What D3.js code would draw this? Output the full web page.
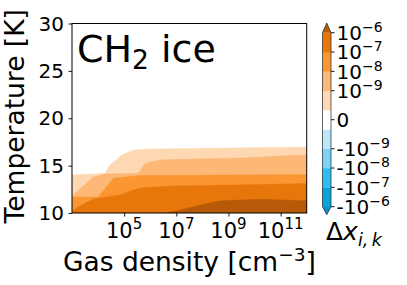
<!DOCTYPE html>
<html><head><meta charset="utf-8">
<script src="https://cdn.jsdelivr.net/npm/d3@7"></script>
<style>
html,body{margin:0;padding:0;background:#fff;}
svg text{font-family:"DejaVu Sans",sans-serif;fill:#000;}
</style></head>
<body><svg id="c" width="407" height="285"></svg>
<script>
// ---- data (log10 density, temperature K) of each filled-contour boundary ----
const xTickExps = [5, 7, 9, 11];
const yTicks = [10, 15, 20, 25, 30];
const levels = [1e-10, 1e-9, 1e-8, 1e-7, 1e-6];
const edge1e10 = [[3,14.0],[4.27,14.19],[4.46,15.07],[4.91,16.12],[5.35,16.65],[5.88,16.75],[12,16.97]];
const edge1e9  = [[3,11.8],[3.81,13.8],[4.27,14.12],[5.54,14.19],[5.81,15.25],[6.38,15.59],[7.15,15.67],[9.46,15.8],[10.88,16.02],[12,16.12]];
const edge1e8  = [[3,11.7],[4.0,11.7],[4.6,13.7],[5.62,13.96],[12,14.06]];
const edge1e7  = [[3,10.21],[3.31,10.74],[3.81,11.48],[4.85,11.9],[5.35,12.43],[5.62,12.64],[6.77,12.85],[9.08,12.96],[12,13.11]];
const edge1e6  = [[3,10],[6.58,10],[7.15,10.32],[7.92,10.84],[8.69,11.3],[10.23,11.45],[12,11.3]];
const edges = [edge1e10, edge1e9, edge1e8, edge1e7, edge1e6];
// colorbar boundaries (symmetric log levels) and tick labels
const cbarBounds = [-1e-6,-1e-7,-1e-8,-1e-9,-1e-10,1e-10,1e-9,1e-8,1e-7,1e-6];
const cbarTicks = [
  {v:-1e-6, s:"-", e:"−6"}, {v:-1e-7, s:"-", e:"−7"}, {v:-1e-8, s:"-", e:"−8"}, {v:-1e-9, s:"-", e:"−9"},
  {v:0, s:"", e:null},
  {v:1e-9, s:"", e:"−9"}, {v:1e-8, s:"", e:"−8"}, {v:1e-7, s:"", e:"−7"}, {v:1e-6, s:"", e:"−6"}
];
const bandColors = ["#0ba3dc","#2ebdef","#7dd3f3","#bde7f8","#ffffff","#fdd8b2","#fdb777","#fb9733","#e8770b"];
const overColor = "#b65a07", underColor = "#0a8fc6";
const fillColors = ["#fdd8b2","#fdb777","#fb9733","#e8770b","#b65a07"]; // region above each level

// ---- layout ----
const svg = d3.select("#c");
const L = 72, R = 306.7, T = 23.5, B = 213;
const x = d3.scaleLinear().domain([3, 12]).range([L, R]);
const xLog = d3.scaleLog().domain([1e3, 1e12]).range([L, R]);
const y = d3.scaleLinear().domain([10, 30]).range([B, T]);

svg.append("defs").append("clipPath").attr("id","pc")
  .append("rect").attr("x",L).attr("y",T).attr("width",R-L).attr("height",B-T);
const g = svg.append("g").attr("clip-path","url(#pc)");
const area = d3.area().x(d=>x(d[0])).y0(y(10)).y1(d=>y(d[1])).curve(d3.curveLinear);
edges.forEach((e,i)=>{
  g.append("path").datum(e).attr("d",area).attr("fill",fillColors[i])
   .attr("stroke",fillColors[i]).attr("stroke-width",0.4);
});

// frame
svg.append("rect").attr("x",L).attr("y",T).attr("width",R-L).attr("height",B-T)
  .attr("fill","none").attr("stroke","#000").attr("stroke-width",1);

// x axis
const xa = svg.append("g").attr("transform",`translate(0,${B})`)
  .call(d3.axisBottom(xLog).tickValues(xTickExps.map(e=>Math.pow(10,e))).tickSize(3.5).tickFormat(""));
xa.select(".domain").remove();
xa.selectAll(".tick line").attr("stroke","#000").attr("stroke-width",0.9);
xTickExps.forEach(e=>{
  const t = svg.append("text").attr("x",xLog(Math.pow(10,e))).attr("y",238)
    .attr("text-anchor","middle").attr("font-size",21);
  t.append("tspan").text("10");
  t.append("tspan").attr("dy",-9).attr("font-size",15).text(e);
});
const xl = svg.append("text").attr("x",(L+R)/2).attr("y",271).attr("text-anchor","middle").attr("font-size",26.5);
xl.append("tspan").text("Gas density [cm");
xl.append("tspan").attr("dy",-10).attr("font-size",18.5).text("−3");
xl.append("tspan").attr("dy",10).text("]");

// y axis
const ya = svg.append("g").attr("transform",`translate(${L},0)`)
  .call(d3.axisLeft(y).tickValues(yTicks).tickSize(3.5).tickFormat(""));
ya.select(".domain").remove();
ya.selectAll(".tick line").attr("stroke","#000").attr("stroke-width",0.9);
yTicks.forEach(v=>{
  svg.append("text").attr("x",64).attr("y",y(v)).attr("dy","0.36em")
    .attr("text-anchor","end").attr("font-size",20).text(v);
});
svg.append("text").attr("transform",`translate(24,${(T+B)/2-2}) rotate(-90)`)
  .attr("text-anchor","middle").attr("font-size",26.5).text("Temperature [K]");

// title
const tt = svg.append("text").attr("x",77).attr("y",62).attr("font-size",38);
tt.append("tspan").text("CH");
tt.append("tspan").attr("dy",7).attr("font-size",26.5).text("2");
tt.append("tspan").attr("dy",-7).text(" ice");

// colorbar
const cbL = 322.5, cbW = 8.5, cbTop = 32.7, cbBot = 206.7;
const cy = d3.scaleLinear().domain([0, cbarBounds.length-1]).range([cbBot, cbTop]);
const cb = svg.append("g");
bandColors.forEach((c,i)=>{
  cb.append("rect").attr("x",cbL).attr("y",cy(i+1)).attr("width",cbW)
    .attr("height",cy(i)-cy(i+1)+0.3).attr("fill",c);
});
cb.append("path").attr("d",`M${cbL},${cbTop}L${cbL+cbW/2},${cbTop-9.7}L${cbL+cbW},${cbTop}Z`).attr("fill",overColor);
cb.append("path").attr("d",`M${cbL},${cbBot}L${cbL+cbW/2},${cbBot+8}L${cbL+cbW},${cbBot}Z`).attr("fill",underColor);
cb.append("path").attr("d",`M${cbL},${cbTop}L${cbL+cbW/2},${cbTop-9.7}L${cbL+cbW},${cbTop}L${cbL+cbW},${cbBot}L${cbL+cbW/2},${cbBot+8}L${cbL},${cbBot}Z`)
  .attr("fill","none").attr("stroke","#222").attr("stroke-width",0.7);
function tickPos(v){
  if (v===0) return (cy(4)+cy(5))/2;
  return cy(cbarBounds.indexOf(v));
}
cbarTicks.forEach(t=>{
  const py = tickPos(t.v);
  cb.append("line").attr("x1",cbL+cbW).attr("x2",cbL+cbW+3.5).attr("y1",py).attr("y2",py)
    .attr("stroke","#000").attr("stroke-width",0.9);
  const tx = cb.append("text").attr("x",336.5).attr("y",py).attr("dy","0.36em").attr("font-size",20);
  if (t.e===null){ tx.text("0"); return; }
  tx.append("tspan").text(t.s+"10");
  tx.append("tspan").attr("dy",-8).attr("font-size",14).text(t.e);
});
const dl = svg.append("text").attr("x",326).attr("y",240).attr("font-size",25);
dl.append("tspan").text("Δ");
dl.append("tspan").attr("font-style","italic").text("x");
dl.append("tspan").attr("dy",6).attr("font-size",17.5).attr("font-style","italic").text("i,\u2009k");
</script></body></html>
